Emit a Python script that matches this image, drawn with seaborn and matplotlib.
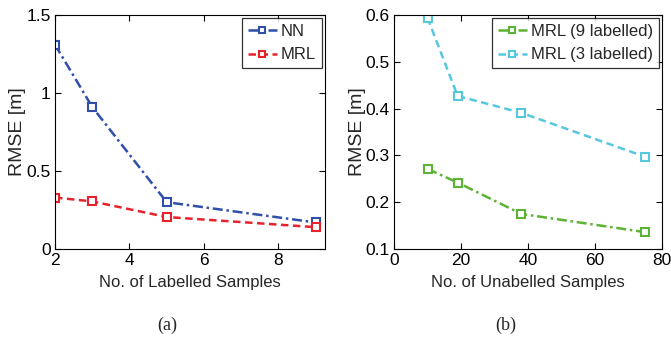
import numpy as np
import pandas as pd
import matplotlib
matplotlib.use("Agg")
import matplotlib.pyplot as plt
import seaborn as sns

sns.set_theme(style="white")
plt.rcParams['font.family'] = ['Liberation Sans', 'DejaVu Sans']

# Panel (a)
labelled = [2, 3, 5, 9]
nn_rmse = [1.31, 0.91, 0.30, 0.17]
mrl_rmse = [0.33, 0.305, 0.205, 0.14]

# Panel (b)
unlabelled = [10, 19, 38, 75]
mrl9_rmse = [0.271, 0.242, 0.175, 0.136]
mrl3_rmse = [0.594, 0.427, 0.391, 0.297]

df_a = pd.DataFrame({
    "x": labelled * 2,
    "y": nn_rmse + mrl_rmse,
    "series": ["NN"] * 4 + ["MRL"] * 4,
})
df_b = pd.DataFrame({
    "x": unlabelled * 2,
    "y": mrl9_rmse + mrl3_rmse,
    "series": ["MRL (9 labelled)"] * 4 + ["MRL (3 labelled)"] * 4,
})

fig = plt.figure(figsize=(6.71, 3.43), dpi=100)
ax1 = fig.add_axes([55/671, 1 - 249/343, 270/671, 234/343])
ax2 = fig.add_axes([394/671, 1 - 249/343, 268/671, 234/343])

blue = "#2f4fa8"
red = "#e8222c"
green = "#5cb335"
cyan = "#55c8e0"

dd = (4, 1.5, 1, 1.5)
da = (3, 1.8)
sns.lineplot(data=df_a, x="x", y="y", hue="series", style="series",
             palette={"NN": blue, "MRL": red},
             dashes={"NN": dd, "MRL": da},
             markers={"NN": "s", "MRL": "s"}, ax=ax1, lw=1.8,
             markersize=6, markerfacecolor="white", markeredgewidth=1.5)
sns.lineplot(data=df_b, x="x", y="y", hue="series", style="series",
             palette={"MRL (9 labelled)": green, "MRL (3 labelled)": cyan},
             dashes={"MRL (9 labelled)": dd, "MRL (3 labelled)": da},
             markers={"MRL (9 labelled)": "s", "MRL (3 labelled)": "s"}, ax=ax2, lw=1.8,
             markersize=6, markerfacecolor="white", markeredgewidth=1.5)

for ax in (ax1, ax2):
    for line in ax.get_lines():
        line.set_markeredgecolor(line.get_color())
        line.set_markerfacecolor("white")

ax1.set_xlim(2, 9.25)
ax1.set_ylim(0, 1.5)
ax1.set_xticks([2, 4, 6, 8])
ax1.set_yticks([0, 0.5, 1, 1.5])
ax1.set_yticklabels(["0", "0.5", "1", "1.5"])
ax1.set_xlabel("No. of Labelled Samples", fontsize=12, labelpad=5)
ax1.set_ylabel("RMSE [m]", fontsize=14, labelpad=0)

ax2.set_xlim(0, 80)
ax2.set_ylim(0.1, 0.6)
ax2.set_xticks([0, 20, 40, 60, 80])
ax2.set_yticks([0.1, 0.2, 0.3, 0.4, 0.5, 0.6])
ax2.set_xlabel("No. of Unabelled Samples", fontsize=12, labelpad=5)
ax2.set_ylabel("RMSE [m]", fontsize=14, labelpad=0)

for ax in (ax1, ax2):
    for s in ax.spines.values():
        s.set_color("black")
        s.set_linewidth(0.8)
    ax.tick_params(direction="in", length=4, width=0.8, labelsize=12.5, pad=3,
                   top=True, right=True, bottom=True, left=True, colors="black")
    leg = ax.legend(loc="upper right", fontsize=12, frameon=True, fancybox=False,
                    handlelength=1.7, borderpad=0.35, labelspacing=0.5,
                    handletextpad=0.25, borderaxespad=0.2)
    leg.set_title(None)
    leg.get_frame().set_edgecolor("black")
    leg.get_frame().set_linewidth(0.9)
    for h in leg.get_lines():
        h.set_markerfacecolor("white")
        h.set_markeredgecolor(h.get_color())
        h.set_markersize(4.5)

fig.text(167/671, 1 - 325/343, "(a)", fontsize=13, family=["Liberation Serif", "DejaVu Serif"],
         ha="center", va="center")
fig.text(506/671, 1 - 325/343, "(b)", fontsize=13, family=["Liberation Serif", "DejaVu Serif"],
         ha="center", va="center")

fig.savefig("out.png", dpi=100, facecolor="white")
